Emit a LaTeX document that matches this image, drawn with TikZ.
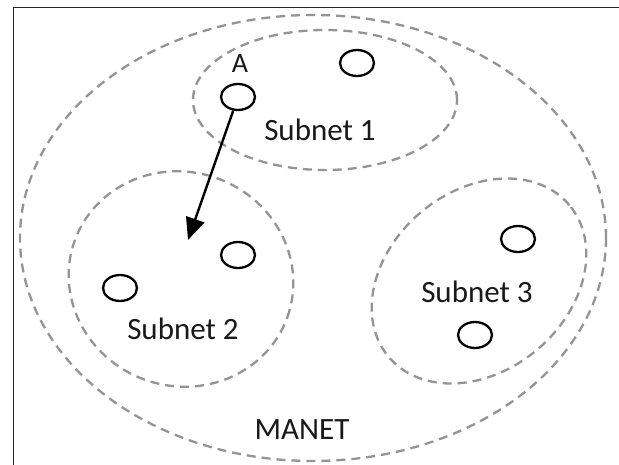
\documentclass[tikz,border=0pt]{standalone}
\usepackage{fontspec}
\setmainfont{Carlito}
\usetikzlibrary{shapes.geometric,arrows.meta}
\begin{document}
\begin{tikzpicture}[x=1pt,y=-1pt,
  region/.style={draw=black!42, line width=2.3pt, dash pattern=on 9pt off 6pt, ellipse, inner sep=0pt},
  host/.style={draw=black, line width=2.3pt, ellipse, minimum width=34pt, minimum height=26pt, inner sep=0pt},
  lbl/.style={font=\fontsize{31}{33}\selectfont, text=black!90, inner sep=0pt},
  small/.style={font=\fontsize{28}{30}\selectfont, text=black!90, inner sep=0pt}]
  % page and frame
  \useasboundingbox (0,0) rectangle (619,465);
  \fill[white] (0,0) rectangle (619,465);
  \draw[line width=1.3pt, black!85] (13.5,465) -- (13.5,7.5) -- (619,7.5);
  % network and subnets
  \node[region, minimum width=586pt, minimum height=446pt] (manet) at (313,238) {};
  \node[region, minimum width=264pt, minimum height=140pt] (s1) at (325,100) {};
  \node[region, minimum width=226pt, minimum height=214pt, rotate=-20] (s2) at (181,279) {};
  \node[region, minimum width=236pt, minimum height=180pt, rotate=40] (s3) at (479,281) {};
  % hosts
  \node[host] (a) at (238,97) {};
  \node[host] (h1) at (357,63) {};
  \node[host] (h2) at (238,255) {};
  \node[host] (h3) at (120,288) {};
  \node[host] (h4) at (518,239) {};
  \node[host] (h5) at (475,335) {};
  % labels
  \node[small] (la) at (240,64) {A};
  \node[lbl] (t1) at (320,130) {Subnet 1};
  \node[lbl] (t2) at (183,329) {Subnet 2};
  \node[lbl] (t3) at (477,292) {Subnet 3};
  \node[lbl] (tm) at (302,430) {MANET};
  % movement of host A
  \coordinate (dest) at (188,240);
  \draw[line width=2.4pt, -{Triangle[length=22pt,width=19pt]}] (a) -- (dest);
\end{tikzpicture}
\end{document}
